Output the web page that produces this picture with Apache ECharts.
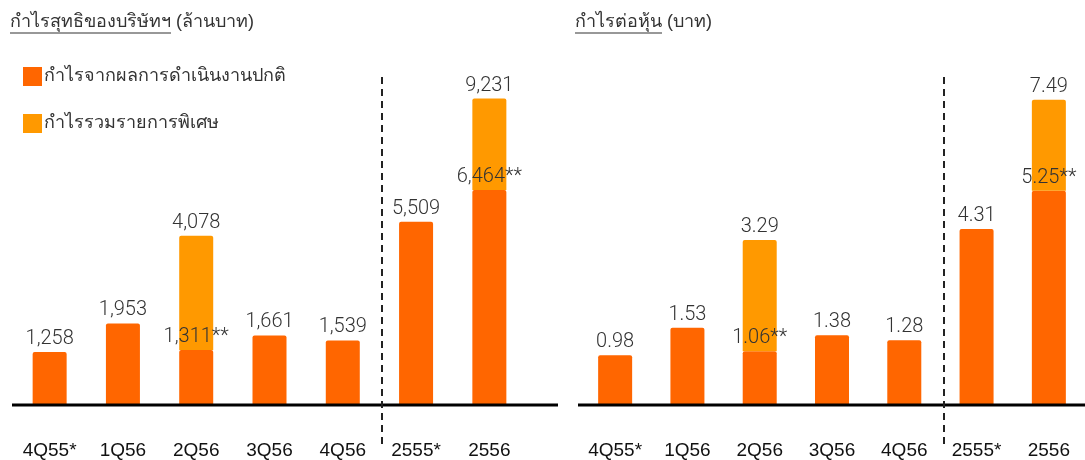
<!DOCTYPE html>
<html><head><meta charset="utf-8">
<script src="https://cdn.jsdelivr.net/npm/echarts@6/dist/echarts.min.js"></script>
<style>html,body{margin:0;padding:0;background:#fff}#c{width:1085px;height:460px}</style>
</head><body><div id="c"></div>
<script>
const categories = ['4Q55*', '1Q56', '2Q56', '3Q56', '4Q56', '2555*', '2556'];
const isAnnual = [false, false, false, false, false, true, true];
const profitNormal = [1258, 1953, 1311, 1661, 1539, 5509, 6464];
const profitTotal = [null, null, 4078, null, null, null, 9231];
const epsNormal = [0.98, 1.53, 1.06, 1.38, 1.28, 4.31, 5.25];
const epsTotal = [null, null, 3.29, null, null, null, 7.49];
const seriesNames = ['กำไรจากผลการดำเนินงานปกติ', 'กำไรรวมรายการพิเศษ'];
const titleMain = ['กำไรสุทธิของบริษัทฯ', 'กำไรต่อหุ้น'];
const titleUnit = ['(ล้านบาท)', '(บาท)'];

const C_NORMAL = '#FF6600', C_SPECIAL = '#FF9900';
const TXT = '#333333';
const numFont = 'Roboto, "Liberation Sans", Arial, sans-serif';
const sansFont = '"Liberation Sans", Arial, sans-serif';

const panels = [
  {normal: profitNormal, total: profitTotal, fmt: v => Math.round(v).toLocaleString('en-US'), qMax: 8700, aMax: 10850, left: 13},
  {normal: epsNormal, total: epsTotal, fmt: v => v.toFixed(2), qMax: 7.2, aMax: 8.84, left: 579}
];

const grids = [], xAxes = [], yAxes = [], series = [];
panels.forEach((p, pi) => {
  grids.push({left: p.left, top: 45, width: 513, height: 360});
  xAxes.push({
    type: 'category', gridIndex: pi, data: categories,
    axisLine: {show: false}, axisTick: {show: false},
    axisLabel: {fontSize: 19, color: '#111', margin: 37, fontFamily: sansFont}
  });
  yAxes.push({type: 'value', gridIndex: pi, min: 0, max: p.qMax, show: false, splitLine: {show: false}});
  yAxes.push({type: 'value', gridIndex: pi, min: 0, max: p.aMax, show: false, splitLine: {show: false}});
  [false, true].forEach((annual, ai) => {
    const yi = pi * 2 + ai;
    const stack = 's' + pi + '_' + ai;
    const lbl = {show: true, position: 'top', distance: 3, color: TXT, fontSize: 20, fontWeight: 300, fontFamily: numFont};
    series.push({
      name: seriesNames[0], type: 'bar', xAxisIndex: pi, yAxisIndex: yi, stack: stack,
      barWidth: 34, barGap: '-100%',
      itemStyle: {color: C_NORMAL, borderRadius: [2, 2, 0, 0]},
      data: p.normal.map((v, i) => isAnnual[i] === annual ? v : '-'),
      label: Object.assign({}, lbl, {
        formatter: prm => p.fmt(prm.value) + (p.total[prm.dataIndex] != null ? '**' : '')
      })
    });
    series.push({
      name: seriesNames[1], type: 'bar', xAxisIndex: pi, yAxisIndex: yi, stack: stack,
      barWidth: 34, barGap: '-100%',
      itemStyle: {color: C_SPECIAL, borderRadius: [2, 2, 0, 0]},
      data: p.total.map((v, i) => (isAnnual[i] === annual && v != null) ? +(v - p.normal[i]).toFixed(4) : '-'),
      label: Object.assign({}, lbl, {
        formatter: prm => p.fmt(p.total[prm.dataIndex])
      })
    });
  });
});

// title measurement for underline
const cv = document.createElement('canvas').getContext('2d');
const titleFontSize = 18;
cv.font = titleFontSize + 'px ' + sansFont;
const graphics = [];
[10, 575].forEach((x0, pi) => {
  const w = cv.measureText(titleMain[pi]).width;
  graphics.push({type: 'text', left: x0, top: 13, style: {text: titleMain[pi], font: titleFontSize + 'px ' + sansFont, fill: TXT}});
  graphics.push({type: 'text', left: x0 + w + 5, top: 13, style: {text: titleUnit[pi], font: titleFontSize + 'px ' + sansFont, fill: TXT}});
  graphics.push({type: 'line', shape: {x1: x0, y1: 33, x2: x0 + w, y2: 33}, style: {stroke: TXT, lineWidth: 1.2}, z: 10});
});
// baselines
graphics.push({type: 'line', shape: {x1: 12, y1: 405, x2: 558, y2: 405}, style: {stroke: '#000', lineWidth: 3}, z: 10});
graphics.push({type: 'line', shape: {x1: 578, y1: 405, x2: 1085, y2: 405}, style: {stroke: '#000', lineWidth: 3}, z: 10});
// dashed separators
[382, 944].forEach(x => graphics.push({type: 'line', shape: {x1: x, y1: 77, x2: x, y2: 447}, style: {stroke: '#222', lineWidth: 2, lineDash: [7, 5]}, z: 10}));

const chart = echarts.init(document.getElementById('c'), null, {renderer: 'canvas'});
chart.setOption({
  animation: false,
  grid: grids, xAxis: xAxes, yAxis: yAxes, series: series,
  legend: {
    data: seriesNames, orient: 'vertical', left: 18, top: 62,
    itemWidth: 19, itemHeight: 19, itemGap: 28, icon: 'rect',
    selectedMode: false,
    textStyle: {fontSize: 18, color: TXT, fontFamily: sansFont, padding: [0, 0, 0, -3]}
  },
  graphic: graphics
});
</script></body></html>
